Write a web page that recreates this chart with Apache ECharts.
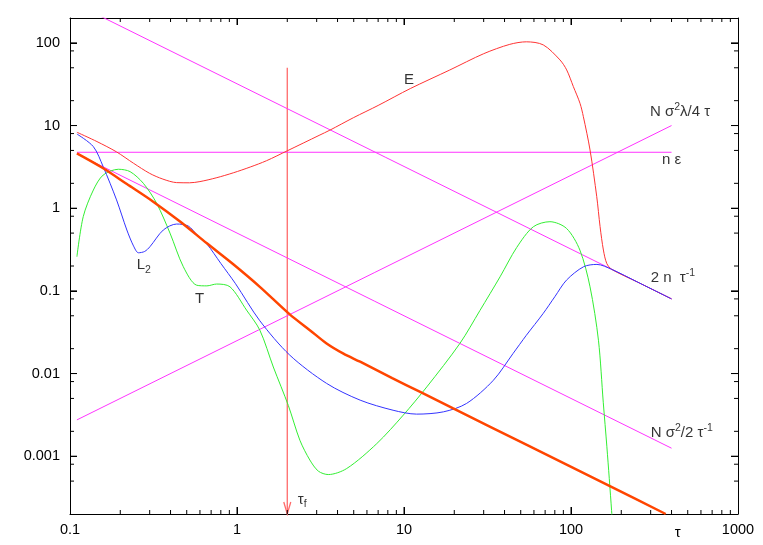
<!DOCTYPE html>
<html><head><meta charset="utf-8">
<script src="https://cdn.jsdelivr.net/npm/echarts@6/dist/echarts.min.js"></script>
<style>html,body{margin:0;padding:0;background:#fff}#c{width:763px;height:545px}#tmp{position:absolute;left:0;top:700px;width:763px;height:545px}</style>
</head><body><div id="c"></div><div id="tmp"></div>
<script>
// ---- axes ----
const xMin = 0.1, xMax = 1000;
const yMin = 0.0002, yMax = 200;
const xMajorTicks = [0.1, 1, 10, 100, 1000];
const xTickLabels = ['0.1', '1', '10', '100', '1000'];
const yMajorTicks = [0.001, 0.01, 0.1, 1, 10, 100];
const yTickLabels = ['0.001', '0.01', '0.1', '1', '10', '100'];
const xMinorTicks = [0.2,0.3,0.4,0.5,0.6,0.7,0.8,0.9, 2,3,4,5,6,7,8,9, 20,30,40,50,60,70,80,90, 200,300,400,500,600,700,800,900];
const yMinorTicks = [0.0005,0.0008, 0.002,0.005,0.008, 0.02,0.05,0.08, 0.2,0.5,0.8, 2,5,8, 20,50,80];

// ---- curves [tau, value] ----
const curveE = [[0.11,8.3],[0.145,6.4],[0.19,4.8],[0.24,3.5],[0.30,2.64],[0.36,2.25],[0.435,2.04],[0.52,2.03],[0.60,2.1],[0.75,2.33],[0.95,2.68],[1.2,3.15],[1.5,3.75],[2.0,4.95],[3.1,7.6],[3.6,8.8],[5,12.5],[7,17.5],[10.9,28],[18.8,47],[30,74],[43,96],[54,103],[68.2,94.6],[85.9,62.2],[94.2,47.1],[103.3,29.6],[113.2,18.6],[118.6,12.8],[130,5.07],[142.6,1.38],[149.3,0.6],[156.3,0.312],[163.7,0.215],[175.4,0.182],[250,0.128],[400,0.08]];
const curveL2 = [[0.11,7.9],[0.138,5.56],[0.158,3.18],[0.19,1.26],[0.219,0.545],[0.24,0.35],[0.257,0.289],[0.28,0.30],[0.301,0.342],[0.362,0.545],[0.435,0.644],[0.51,0.61],[0.58,0.47],[0.66,0.37],[0.80,0.215],[0.98,0.122],[1.37,0.0435],[2.07,0.0167],[3.44,0.0076],[5.46,0.00477],[8.6,0.0036],[11.9,0.00323],[17.2,0.00344],[23.7,0.00435],[34.3,0.0083],[45,0.0175],[54,0.029],[68,0.053],[80,0.085],[94,0.135],[119,0.196],[143,0.209],[175.4,0.182],[250,0.128],[400,0.08]];
const curveT = [[0.11,0.259],[0.12,0.79],[0.138,1.66],[0.158,2.52],[0.195,2.96],[0.229,2.77],[0.275,2.0],[0.33,1.15],[0.397,0.50],[0.477,0.196],[0.574,0.117],[0.66,0.115],[0.755,0.121],[0.908,0.112],[1.14,0.0586],[1.37,0.0335],[1.65,0.012],[2.03,0.0041],[2.38,0.00156],[2.73,0.0009],[3.07,0.00066],[3.52,0.0006],[4.54,0.00071],[6.87,0.00142],[9.9,0.00314],[13.7,0.0069],[21.6,0.0231],[28.5,0.058],[37.6,0.148],[47.3,0.335],[59.5,0.597],[74.8,0.687],[94,0.57],[113,0.312],[130,0.112],[146,0.0253],[156,0.0045],[164,0.0013],[175,0.00022],[178,0.00012]];
const curveBound = [[0.11,4.6],[0.158,3.04],[0.219,1.96],[0.315,1.2],[0.456,0.69],[0.66,0.376],[0.95,0.21],[1.37,0.112],[2.07,0.052],[2.73,0.0335],[3.44,0.0231],[4.34,0.0174],[5.46,0.0139],[8.5,0.0088],[12.5,0.006],[19.7,0.00379],[54,0.00138],[171,0.000436],[369,0.0002]];

// ---- straight reference lines ----
const lineLambda = [[0.11,0.00275],[400,10]];
const lineNEps   = [[0.11,4.75],[400,4.75]];
const line2n     = [[0.11,291],[400,0.08]];
const lineNSig   = [[0.11,4.55],[400,0.00125]];

// ---- tau_f arrow: [tau, top, bottom] ----
const tauArrow = [[2, 50, 0.0002]];

// ---- text labels ----
const labelPos = [[10.0,35.7],[0.251,0.205],[0.561,0.081],[297,14.7],[351,3.89],[300,0.143],[300,0.00192],[2.31,0.0003]];
const labelText = ['E', 'L{sub|2}', 'T', 'N σ{sup|2}λ/4 τ', 'n ε', '2 n  τ{sup|-1}', 'N σ{sup|2}/2 τ{sup|-1}', 'τ{sub|f}'];
const tauAxisName = {tau: 436, text: 'τ'};

const FONT = 'Liberation Sans, Arial, Helvetica, sans-serif';
function labelFor(values, labels){ return function(v){ for (let i = 0; i < values.length; i++){ if (Math.abs(Math.log10(v) - Math.log10(values[i])) < 1e-6) return labels[i]; } return ''; }; }

function ax(pos, min, max, extra){
  return Object.assign({type:'log', position:pos, min, max,
    axisLine:{show:true, lineStyle:{color:'#000'}},
    axisTick:{show:true, inside:true, length:7, lineStyle:{color:'#000'}},
    splitLine:{show:false}}, extra || {});
}
const GRID = {left:70, right:25, top:18, bottom:31};
function axesOption(){
  return {
    xAxis:[
      ax('bottom', xMin, xMax, {axisLabel:{margin:8, color:'#000', fontSize:14.5, fontFamily:FONT, formatter:labelFor(xMajorTicks, xTickLabels)}}),
      ax('top', xMin, xMax, {axisLabel:{show:false}})
    ],
    yAxis:[
      ax('left', yMin, yMax, {axisLabel:{margin:10, color:'#000', fontSize:14.5, fontFamily:FONT, formatter:labelFor(yMajorTicks, yTickLabels)}}),
      ax('right', yMin, yMax, {axisLabel:{show:false}})
    ]
  };
}

// measure through the same scales on a throw-away chart
const finder = {xAxisIndex:0, yAxisIndex:0};
const tmp = echarts.init(document.getElementById('tmp'));
tmp.setOption(Object.assign({animation:false, grid:GRID, series:[{type:'line', data:[]}]}, axesOption()));
const namePx = tmp.convertToPixel(finder, [tauAxisName.tau, yMin]);
const pBL = tmp.convertToPixel(finder, [xMin, yMin]);
const pTR = tmp.convertToPixel(finder, [xMax, yMax]);
const yBottomIn = L => tmp.convertFromPixel(finder, [pBL[0], pBL[1] - L])[1];
const yTopIn = L => tmp.convertFromPixel(finder, [pBL[0], pTR[1] + L])[1];
const xLeftIn = L => tmp.convertFromPixel(finder, [pBL[0] + L, pBL[1]])[0];
const xRightIn = L => tmp.convertFromPixel(finder, [pTR[0] - L, pBL[1]])[0];
const tickSeries = [];
function seg(a, b){ tickSeries.push({type:'line', data:[a, b], showSymbol:false, symbol:'none', lineStyle:{color:'#000', width:1}, clip:false, silent:true, z:10}); }
function addX(list, L){ const yb = yBottomIn(L), yt = yTopIn(L); list.forEach(v => { seg([v, yMin], [v, yb]); seg([v, yt], [v, yMax]); }); }
function addY(list, L){ const xl = xLeftIn(L), xr = xRightIn(L); list.forEach(v => { seg([xMin, v], [xl, v]); seg([xr, v], [xMax, v]); }); }
addX(xMajorTicks.slice(1, -1), 7); addX(xMinorTicks, 4);
addY(yMajorTicks, 7); addY(yMinorTicks, 4);
tmp.dispose();

const thin = (data, color, w) => ({type:'line', data, showSymbol:false, symbol:'none', smooth:0.3, lineStyle:{color, width:w}});
const straight = (data) => ({type:'line', data, showSymbol:false, symbol:'none', lineStyle:{color:'#ff33ff', width:1}});

function arrowRender(params, api){
  const top = api.coord([api.value(0), api.value(1)]);
  const bot = api.coord([api.value(0), api.value(2)]);
  return {type:'group', children:[
    {type:'line', shape:{x1:top[0], y1:top[1], x2:bot[0], y2:bot[1]}, style:{stroke:'#ff6a6a', lineWidth:1.3}},
    {type:'polyline', shape:{points:[[bot[0]-3.5, bot[1]-12],[bot[0], bot[1]],[bot[0]+3.5, bot[1]-12]]}, style:{stroke:'#ff6a6a', lineWidth:1.3, fill:null}}
  ]};
}

const chart = echarts.init(document.getElementById('c'));
chart.setOption(Object.assign({
  animation:false,
  grid:GRID,
  graphic:[{type:'text', x:namePx[0], y:namePx[1]+19, style:{text:tauAxisName.text, font:'15px '+FONT, fill:'#000', textAlign:'center', textVerticalAlign:'middle'}}],
  series:[
    straight(lineLambda),
    straight(lineNEps),
    straight(line2n),
    straight(lineNSig),
    {type:'custom', renderItem:arrowRender, data:tauArrow, encode:{x:0, y:1}, clip:false, z:3},
    thin(curveE, '#ff3333', 1),
    thin(curveT, '#33ee33', 1),
    thin(curveL2, '#3333ff', 1),
    thin(curveBound, '#ff4500', 2.5),
    {type:'scatter', data:labelPos, symbolSize:0, z:5,
      label:{show:true, position:'right', distance:0, color:'#000', fontSize:15, fontFamily:FONT,
        formatter:p=>labelText[p.dataIndex],
        rich:{
          sup:{fontSize:10.5, fontFamily:FONT, color:'#000', padding:[0,0,9,0]},
          sub:{fontSize:10.5, fontFamily:FONT, color:'#000', padding:[9,0,0,0]}
        }}}
  ].concat(tickSeries)
}, axesOption()));
</script></body></html>
